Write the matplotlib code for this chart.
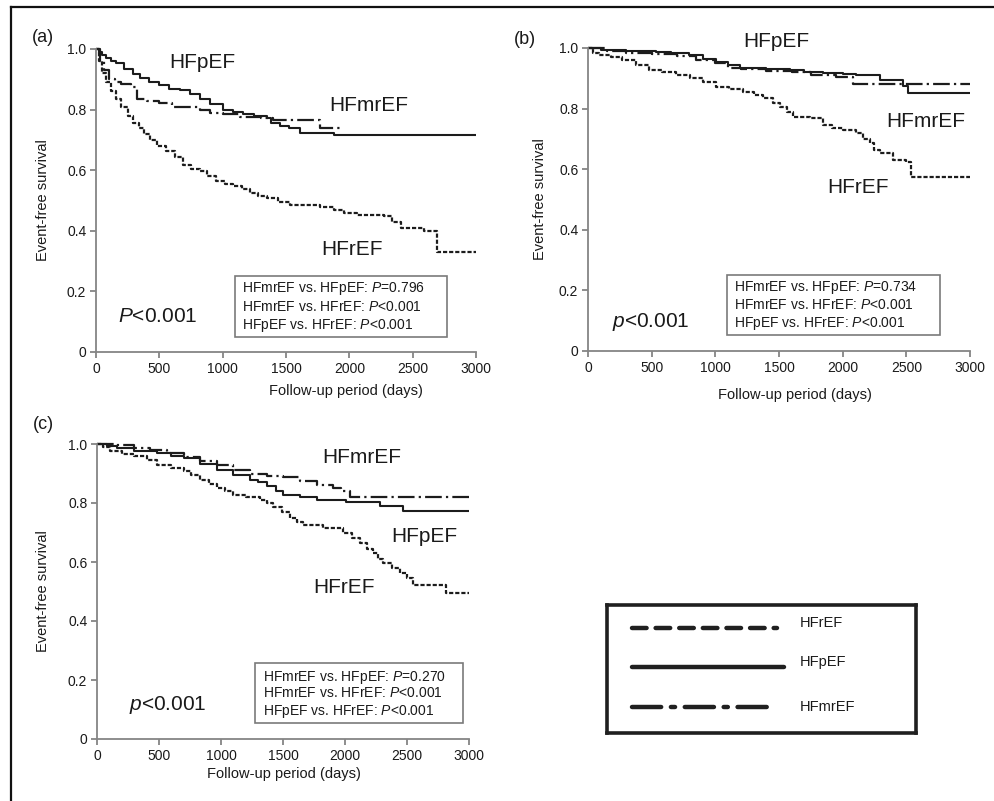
import matplotlib
matplotlib.use("Agg")
import matplotlib.pyplot as plt
from matplotlib.patches import Rectangle
from matplotlib.lines import Line2D

plt.rcParams['font.family'] = ['Liberation Sans', 'DejaVu Sans']
plt.rcParams['mathtext.fontset'] = 'custom'
plt.rcParams['mathtext.rm'] = 'Liberation Sans'
plt.rcParams['mathtext.it'] = 'Liberation Sans:italic'
plt.rcParams['lines.scale_dashes'] = False

W, H = 995, 801

# ---------------- data ----------------
xticks = [0, 500, 1000, 1500, 2000, 2500, 3000]
yticks = [0, 0.2, 0.4, 0.6, 0.8, 1.0]
ytick_labels = ["0", "0.2", "0.4", "0.6", "0.8", "1.0"]
groups = ["HFrEF", "HFpEF", "HFmrEF"]

# panel (a)
a_pef_t = [0, 20, 50, 80, 120, 160, 220, 290, 350, 420, 500, 580, 660, 740, 820, 900, 1005, 1080, 1160, 1250, 1350, 1380, 1450, 1520, 1610, 1880, 3000]
a_pef_s = [1.0, 0.99, 0.98, 0.97, 0.96, 0.955, 0.935, 0.917, 0.905, 0.892, 0.88, 0.868, 0.865, 0.852, 0.834, 0.818, 0.80, 0.793, 0.784, 0.779, 0.773, 0.757, 0.747, 0.74, 0.723, 0.717, 0.717]
a_mr_t = [0, 30, 60, 100, 150, 200, 280, 320, 400, 500, 600, 700, 820, 900, 1000, 1140, 1300, 1400, 1770, 1950]
a_mr_s = [1.0, 0.96, 0.93, 0.90, 0.89, 0.885, 0.873, 0.835, 0.828, 0.823, 0.81, 0.807, 0.80, 0.79, 0.785, 0.776, 0.772, 0.767, 0.74, 0.74]
a_ref_t = [0, 20, 50, 80, 120, 160, 200, 250, 290, 340, 380, 423, 480, 555, 620, 687, 750, 820, 880, 950, 1020, 1083, 1150, 1215, 1280, 1348, 1440, 1533, 1770, 1878, 1960, 2062, 2273, 2340, 2405, 2590, 2696, 3000]
a_ref_s = [1.0, 0.96, 0.92, 0.89, 0.86, 0.834, 0.81, 0.78, 0.756, 0.74, 0.72, 0.70, 0.68, 0.662, 0.645, 0.618, 0.605, 0.596, 0.58, 0.563, 0.555, 0.549, 0.537, 0.524, 0.515, 0.507, 0.495, 0.485, 0.48, 0.468, 0.46, 0.452, 0.448, 0.43, 0.41, 0.40, 0.33, 0.33]

# panel (b)
b_pef_t = [0, 100, 300, 533, 650, 795, 900, 1005, 1100, 1190, 1400, 1583, 1700, 1845, 2000, 2108, 2290, 2475, 2515, 3000]
b_pef_s = [1.0, 0.995, 0.99, 0.988, 0.983, 0.977, 0.965, 0.955, 0.945, 0.933, 0.93, 0.927, 0.92, 0.916, 0.913, 0.911, 0.894, 0.875, 0.85, 0.85]
b_mr_t = [0, 150, 300, 500, 700, 850, 1000, 1100, 1200, 1400, 1600, 1750, 1950, 2080, 3000]
b_mr_s = [1.0, 0.99, 0.985, 0.98, 0.975, 0.96, 0.95, 0.935, 0.93, 0.925, 0.92, 0.912, 0.905, 0.881, 0.881]
b_ref_t = [0, 40, 87, 180, 270, 380, 480, 580, 690, 800, 900, 1005, 1110, 1215, 1300, 1373, 1450, 1504, 1560, 1609, 1740, 1845, 1920, 2002, 2108, 2160, 2212, 2250, 2290, 2396, 2501, 2540, 3000]
b_ref_s = [1.0, 0.985, 0.977, 0.97, 0.96, 0.945, 0.927, 0.92, 0.911, 0.9, 0.889, 0.872, 0.865, 0.856, 0.845, 0.834, 0.82, 0.806, 0.79, 0.773, 0.768, 0.746, 0.735, 0.729, 0.718, 0.70, 0.685, 0.665, 0.652, 0.63, 0.625, 0.575, 0.575]

# panel (c)
c_pef_t = [0, 80, 161, 295, 483, 600, 698, 830, 966, 1100, 1234, 1300, 1368, 1440, 1503, 1637, 1771, 2012, 2281, 2469, 3000]
c_pef_s = [1.0, 0.993, 0.986, 0.975, 0.969, 0.96, 0.952, 0.932, 0.913, 0.895, 0.879, 0.87, 0.856, 0.84, 0.828, 0.822, 0.811, 0.805, 0.79, 0.774, 0.774]
c_mr_t = [0, 150, 295, 430, 563, 700, 832, 970, 1100, 1230, 1368, 1503, 1637, 1771, 1905, 1970, 2039, 3000]
c_mr_s = [1.0, 0.995, 0.986, 0.978, 0.969, 0.955, 0.941, 0.93, 0.913, 0.90, 0.89, 0.888, 0.873, 0.862, 0.85, 0.84, 0.822, 0.822]
c_ref_t = [0, 50, 107, 200, 295, 400, 483, 600, 698, 760, 832, 900, 966, 1030, 1100, 1200, 1315, 1370, 1423, 1490, 1556, 1610, 1664, 1825, 1986, 2060, 2120, 2180, 2227, 2270, 2308, 2380, 2442, 2500, 2549, 2818, 3000]
c_ref_s = [1.0, 0.99, 0.975, 0.965, 0.958, 0.945, 0.93, 0.918, 0.907, 0.895, 0.879, 0.865, 0.851, 0.84, 0.828, 0.82, 0.811, 0.8, 0.788, 0.77, 0.749, 0.735, 0.726, 0.715, 0.698, 0.68, 0.664, 0.645, 0.63, 0.61, 0.596, 0.58, 0.562, 0.545, 0.522, 0.494, 0.494]

a_pvals = ["HFmrEF vs. HFpEF: $\\mathit{P}$=0.796", "HFmrEF vs. HFrEF: $\\mathit{P}$<0.001", "HFpEF vs. HFrEF: $\\mathit{P}$<0.001"]
b_pvals = ["HFmrEF vs. HFpEF: $\\mathit{P}$=0.734", "HFmrEF vs. HFrEF: $\\mathit{P}$<0.001", "HFpEF vs. HFrEF: $\\mathit{P}$<0.001"]
c_pvals = ["HFmrEF vs. HFpEF: $\\mathit{P}$=0.270", "HFmrEF vs. HFrEF: $\\mathit{P}$<0.001", "HFpEF vs. HFrEF: $\\mathit{P}$<0.001"]

# ---------------- styles ----------------
LC = '#1c1c1c'
SPC = '#858585'
TXT = '#1a1a1a'
style = {
    'HFrEF': dict(linestyle=(0, (3.0, 1.4)), lw=1.6),
    'HFpEF': dict(linestyle='-', lw=1.5),
    'HFmrEF': dict(linestyle=(0, (12, 3, 1.6, 3)), lw=1.6),
}

fig = plt.figure(figsize=(W / 100, H / 100), dpi=100)


def px_axes(x0, y0, x1, y1):
    return fig.add_axes([x0 / W, 1 - y1 / H, (x1 - x0) / W, (y1 - y0) / H])


def setup(ax):
    ax.set_xlim(0, 3000)
    ax.set_ylim(0, 1)
    for s in ['top', 'right']:
        ax.spines[s].set_visible(False)
    for s in ['left', 'bottom']:
        ax.spines[s].set_color(SPC)
        ax.spines[s].set_linewidth(1.3)
    ax.set_xticks(xticks)
    ax.set_xticklabels([str(v) for v in xticks])
    ax.set_yticks(yticks)
    ax.set_yticklabels(ytick_labels)
    ax.tick_params(direction='out', length=4, width=1.3, color=SPC,
                   labelsize=10, labelcolor=TXT, pad=3)


def curves(ax, data):
    for name, (t, s) in data.items():
        ax.plot(t, s, drawstyle='steps-post', color=LC, clip_on=False,
                solid_capstyle='butt', dash_capstyle='butt', **style[name])


def pbox(ax, x0, x1, y0, y1, tx, ys, lines):
    ax.add_patch(Rectangle((x0, y0), x1 - x0, y1 - y0, fill=False,
                           edgecolor='#7a7a7a', lw=1.2))
    for y, l in zip(ys, lines):
        ax.text(tx, y, l, fontsize=10, color=TXT, ha='left', va='center')


# panel a
ax = px_axes(96, 49, 476, 352)
setup(ax)
curves(ax, {'HFrEF': (a_ref_t, a_ref_s), 'HFmrEF': (a_mr_t, a_mr_s), 'HFpEF': (a_pef_t, a_pef_s)})
ax.text(837, 0.957, 'HFpEF', fontsize=15, ha='center', va='center', color=TXT)
ax.text(2155, 0.815, 'HFmrEF', fontsize=15, ha='center', va='center', color=TXT)
ax.text(2021, 0.337, 'HFrEF', fontsize=15, ha='center', va='center', color=TXT)
ax.text(490, 0.116, '$\\mathit{P}$<0.001', fontsize=15, ha='center', va='center', color=TXT)
pbox(ax, 1097, 2771, 0.05, 0.251, 1153, [0.211, 0.149, 0.089], a_pvals)
ax.text(-0.14, 0.5, 'Event-free survival', rotation=90, transform=ax.transAxes,
        ha='center', va='center', fontsize=10.5, color=TXT)
ax.text(0.658, -0.129, 'Follow-up period (days)', transform=ax.transAxes,
        ha='center', va='center', fontsize=10.5, color=TXT)

# panel b
ax = px_axes(588, 48, 970, 351)
setup(ax)
curves(ax, {'HFrEF': (b_ref_t, b_ref_s), 'HFmrEF': (b_mr_t, b_mr_s), 'HFpEF': (b_pef_t, b_pef_s)})
ax.text(1480, 1.02, 'HFpEF', fontsize=15, ha='center', va='center', color=TXT, clip_on=False)
ax.text(2654, 0.756, 'HFmrEF', fontsize=15, ha='center', va='center', color=TXT)
ax.text(2118, 0.538, 'HFrEF', fontsize=15, ha='center', va='center', color=TXT)
ax.text(496, 0.096, '$\\mathit{p}$<0.001', fontsize=15, ha='center', va='center', color=TXT)
pbox(ax, 1094, 2764, 0.053, 0.251, 1150, [0.211, 0.152, 0.092], b_pvals)
ax.text(-0.126, 0.5, 'Event-free survival', rotation=90, transform=ax.transAxes,
        ha='center', va='center', fontsize=10.5, color=TXT)
ax.text(0.542, -0.145, 'Follow-up period (days)', transform=ax.transAxes,
        ha='center', va='center', fontsize=10.5, color=TXT)

# panel c
ax = px_axes(97, 444, 469, 739)
setup(ax)
curves(ax, {'HFrEF': (c_ref_t, c_ref_s), 'HFmrEF': (c_mr_t, c_mr_s), 'HFpEF': (c_pef_t, c_pef_s)})
ax.text(2137, 0.953, 'HFmrEF', fontsize=15, ha='center', va='center', color=TXT)
ax.text(2637, 0.685, 'HFpEF', fontsize=15, ha='center', va='center', color=TXT)
ax.text(1992, 0.512, 'HFrEF', fontsize=15, ha='center', va='center', color=TXT)
ax.text(573, 0.115, '$\\mathit{p}$<0.001', fontsize=15, ha='center', va='center', color=TXT)
pbox(ax, 1274, 2952, 0.054, 0.258, 1339, [0.21, 0.156, 0.092], c_pvals)
ax.text(-0.145, 0.5, 'Event-free survival', rotation=90, transform=ax.transAxes,
        ha='center', va='center', fontsize=10.5, color=TXT)
ax.text(0.503, -0.12, 'Follow-up period (days)', transform=ax.transAxes,
        ha='center', va='center', fontsize=10.5, color=TXT)

# panel labels
for lab, (x, y) in zip(['(a)', '(b)', '(c)'], [(43, 38), (525, 40), (43, 425)]):
    fig.text(x / W, 1 - y / H, lab, fontsize=13, ha='center', va='center', color=TXT)

# legend box
lg = px_axes(607, 605, 916, 733)
lg.set_xlim(0, 1)
lg.set_ylim(0, 1)
lg.set_xticks([])
lg.set_yticks([])
for s in lg.spines.values():
    s.set_linewidth(2.6)
    s.set_color('#202020')
leg_rows = [0.82, 0.516, 0.203]
leg_text_y = [0.86, 0.555, 0.203]
leg_styles = [(0, (10.5, 6.5)), '-', (0, (21, 7, 3, 7))]
leg_x1 = [0.55, 0.572, 0.537]
for name, y, ty, ls, x1 in zip(groups, leg_rows, leg_text_y, leg_styles, leg_x1):
    lg.plot([0.081, x1], [y, y], color='#202020', lw=3.2, linestyle=ls,
            dash_capstyle='round', solid_capstyle='round')
    lg.text(0.625, ty, name, fontsize=10.5, ha='left', va='center', color=TXT)

# outer frame
fig.add_artist(Line2D([11 / W, 11 / W], [0, 1 - 7 / H], color='#111111', lw=1.6))
fig.add_artist(Line2D([11 / W, 1], [1 - 7 / H, 1 - 7 / H], color='#111111', lw=1.6))

fig.savefig('out.png', dpi=100)
